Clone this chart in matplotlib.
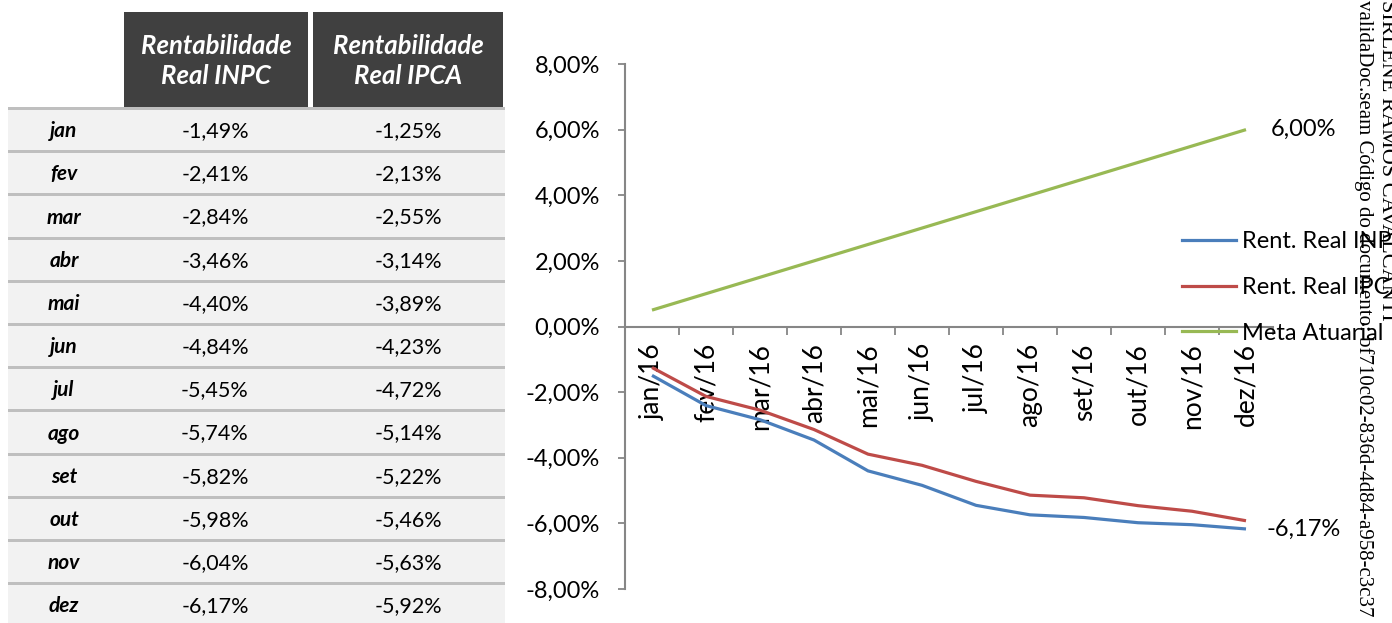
import numpy as np
import matplotlib
matplotlib.use('Agg')
import matplotlib.pyplot as plt
from matplotlib.patches import Rectangle
from matplotlib.lines import Line2D

# =========== DATA =========================
MONTHS = ['jan', 'fev', 'mar', 'abr', 'mai', 'jun', 'jul', 'ago', 'set', 'out', 'nov', 'dez']
CAT_LABELS = [m + '/16' for m in MONTHS]
INPC = [-1.49, -2.41, -2.84, -3.46, -4.40, -4.84, -5.45, -5.74, -5.82, -5.98, -6.04, -6.17]
IPCA = [-1.25, -2.13, -2.55, -3.14, -3.89, -4.23, -4.72, -5.14, -5.22, -5.46, -5.63, -5.92]
META = [0.5, 1.0, 1.5, 2.0, 2.5, 3.0, 3.5, 4.0, 4.5, 5.0, 5.5, 6.0]
HEADERS = ['Rentabilidade\nReal INPC', 'Rentabilidade\nReal IPCA']
SERIES_NAMES = ['Rent. Real INPC', 'Rent. Real IPCA', 'Meta Atuarial']
Y_TICKS = [-8, -6, -4, -2, 0, 2, 4, 6, 8]

# =========== STYLE =========================
FONT = 'Lato'
C_INPC = '#4A7EBB'
C_IPCA = '#BE4B48'
C_META = '#98B954'
C_AXIS = '#868686'
W, H = 1392, 623
FS = 17

def pct(v):
    return f'{v:.2f}%'.replace('.', ',')

plt.rcParams['font.family'] = [FONT, 'DejaVu Sans']
fig = plt.figure(figsize=(W / 100, H / 100), dpi=100)

# ---------- table (pixel coordinates inside its own axes) ----------
tab = fig.add_axes([0, 0, 505 / W, 1])
tab.set_xlim(0, 505)
tab.set_ylim(H, 0)
tab.axis('off')

head_cols = [(124, 308), (313, 503)]
for (x0, x1), txt in zip(head_cols, HEADERS):
    tab.add_patch(Rectangle((x0, 12), x1 - x0, 96, color='#404040', lw=0))
    tab.text((x0 + x1) / 2, 61, txt, color='white', fontsize=18.5, fontweight='bold',
             fontstyle='italic', ha='center', va='center', linespacing=1.25)

row_top, row_h = 108.5, 43.2
for i, m in enumerate(MONTHS):
    y0 = row_top + i * row_h
    tab.add_patch(Rectangle((8, y0), 497, row_h, color='#F2F2F2', lw=0))
    tab.add_patch(Rectangle((8, y0 - 1.5), 497, 3, color='#BFBFBF', lw=0))
    yc = y0 + row_h / 2 + 1
    tab.text(64, yc, m, fontsize=15, fontweight='bold', fontstyle='italic',
             ha='center', va='center', color='black')
    tab.text(215, yc, pct(INPC[i]), fontsize=15.5, ha='center', va='center')
    tab.text(408, yc, pct(IPCA[i]), fontsize=15.5, ha='center', va='center')

# ---------- line chart ----------
ax = fig.add_axes([625 / W, 34 / H, (1273 - 625) / W, (589 - 64) / H])
# spine position first: moving it resets the tick settings
for s in ['top', 'right']:
    ax.spines[s].set_visible(False)
ax.spines['bottom'].set_position(('data', 0))
for s in ['left', 'bottom']:
    ax.spines[s].set_color(C_AXIS)
    ax.spines[s].set_linewidth(1.5)

x = np.arange(len(MONTHS))
ax.plot(x, INPC, color=C_INPC, lw=2.3, solid_capstyle='butt')
ax.plot(x, IPCA, color=C_IPCA, lw=2.3, solid_capstyle='butt')
ax.plot(x, META, color=C_META, lw=2.3, solid_capstyle='butt')

ax.set_xlim(-0.5, len(MONTHS) - 0.5)
ax.set_ylim(-8, 8)
ax.set_yticks(Y_TICKS)
ax.set_yticklabels([pct(v) for v in Y_TICKS], fontsize=FS)
ax.set_xticks(x)
ax.set_xticklabels(CAT_LABELS, rotation=90, fontsize=19)
ax.set_xticks(np.arange(len(MONTHS) + 1) - 0.5, minor=True)
ax.tick_params(axis='x', which='major', length=0, pad=12)
ax.tick_params(axis='x', which='minor', length=6, width=1.3, color=C_AXIS, direction='out')
ax.tick_params(axis='y', length=5, width=1.3, color=C_AXIS, pad=13)
ax.patch.set_alpha(0)

ax.annotate(pct(META[-1]), (x[-1], META[-1]), xytext=(18, 0), textcoords='offset points',
            fontsize=FS, va='center', ha='left')
ax.annotate(pct(INPC[-1]), (x[-1], INPC[-1]), xytext=(15, 0), textcoords='offset points',
            fontsize=FS, va='center', ha='left')

# legend, placed by hand to the right of the plot
handles = [Line2D([], [], color=c, lw=2.3) for c in (C_INPC, C_IPCA, C_META)]
fig.legend(handles, SERIES_NAMES, loc='upper left', bbox_to_anchor=(1182 / W, 1 - 231 / H),
           frameon=False, fontsize=FS, handlelength=2.3, handletextpad=0.25,
           labelspacing=1.05, borderaxespad=0, borderpad=0)

# watermark along the right edge
fig.text(1386 / W, 1.0, 'SIRLENE RAMOS CAVALCANTI', rotation=-90, ha='center', va='top',
         family='Liberation Serif', fontsize=16)
fig.text(1364 / W, 1.0, 'validaDoc.seam Código do documento: bf710c02-836d-4d84-a958-c3c37',
         rotation=-90, ha='center', va='top', family='Liberation Serif', fontsize=15)

fig.savefig('out.png', dpi=100)
